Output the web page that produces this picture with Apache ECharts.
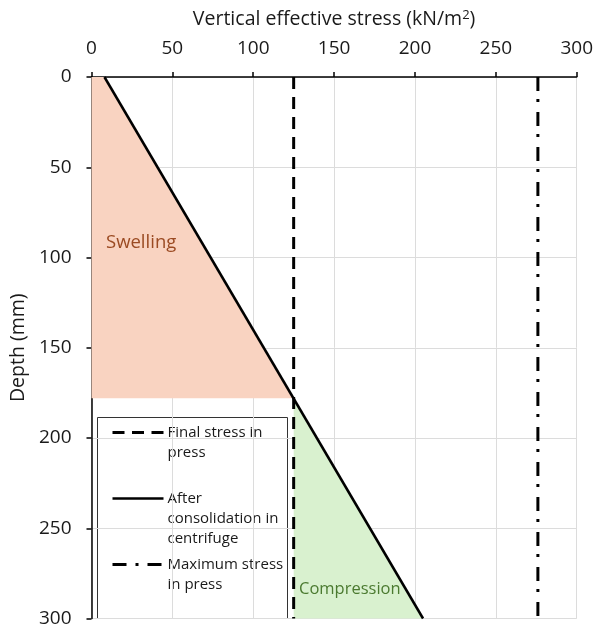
<!DOCTYPE html>
<html>
<head>
<meta charset="utf-8">
<script src="https://cdn.jsdelivr.net/npm/echarts@6/dist/echarts.min.js"></script>
<style>
  html, body { margin: 0; padding: 0; background: #fff; }
  #chart { width: 596px; height: 628px; }
</style>
</head>
<body>
<div id="chart"></div>
<script>
// Depth profile of vertical effective stress
const depthTicks = [0, 50, 100, 150, 200, 250, 300];
const stressTicks = [0, 50, 100, 150, 200, 250, 300];

// After consolidation in centrifuge: stress (kN/m2) at top and bottom depth (mm)
const consolidationDepth = [0, 300];
const consolidationStress = [8, 205];

// Press stresses (kN/m2)
const finalPressStress = 125;
const maxPressStress = 276;

// Depth where the consolidation line meets the final press stress
const crossDepth = 178;

const FONT = '"Open Sans", "Noto Sans", sans-serif';
const TXT = '#1a1a1a';

// Region polygons (stress, depth)
const swellingZone = [[0, 0], [consolidationStress[0], 0], [finalPressStress, crossDepth], [0, crossDepth]];
const compressionZone = [[finalPressStress, crossDepth], [consolidationStress[1], consolidationDepth[1]], [finalPressStress, consolidationDepth[1]]];

function polygonSeries(name, pts, color) {
  return {
    name: name,
    type: 'custom',
    silent: true,
    z: 1,
    data: [0],
    renderItem: function (params, api) {
      return {
        type: 'polygon',
        shape: { points: pts.map(p => api.coord(p)) },
        style: { fill: color }
      };
    }
  };
}

const chart = echarts.init(document.getElementById('chart'), null, { renderer: 'canvas' });

chart.setOption({
  animation: false,
  backgroundColor: '#fff',
  grid: { left: 90, right: 19, top: 77, bottom: 8 },
  xAxis: {
    type: 'value',
    position: 'top',
    min: stressTicks[0],
    max: stressTicks[stressTicks.length - 1],
    interval: 50,
    name: '{t|Vertical effective stress (kN/m}{s|2}{t|)}',
    nameLocation: 'middle',
    nameGap: 47,
    nameTextStyle: {
      rich: {
        t: { fontFamily: FONT, fontSize: 19.5, color: TXT },
        s: { fontFamily: FONT, fontSize: 13, color: TXT, verticalAlign: 'top', padding: [0, 0, 8, 0] }
      }
    },
    axisLine: { show: true, lineStyle: { color: '#000', width: 1.5 } },
    axisTick: { show: true, inside: false, length: 5, lineStyle: { color: '#000', width: 1.5 } },
    axisLabel: { fontFamily: FONT, fontSize: 19, color: TXT, margin: 19 },
    splitLine: { show: true, lineStyle: { color: '#dcdcdc', width: 1 } }
  },
  yAxis: {
    type: 'value',
    inverse: true,
    min: depthTicks[0],
    max: depthTicks[depthTicks.length - 1],
    interval: 50,
    name: 'Depth (mm)',
    nameLocation: 'middle',
    nameGap: 60,
    nameTextStyle: { fontFamily: FONT, fontSize: 19.5, color: TXT },
    axisLine: { show: true, lineStyle: { color: '#000', width: 1.5 } },
    axisTick: { show: true, inside: false, length: 5, lineStyle: { color: '#000', width: 1.5 } },
    axisLabel: { fontFamily: FONT, fontSize: 19, color: TXT, margin: 20 },
    splitLine: { show: true, lineStyle: { color: '#dcdcdc', width: 1 } }
  },
  series: [
    polygonSeries('Swelling', swellingZone, '#f9d3c1'),
    polygonSeries('Compression', compressionZone, '#d9f1cf'),
    {
      name: 'Final stress in press',
      type: 'line',
      symbol: 'none',
      z: 3,
      data: consolidationDepth.map(d => [finalPressStress, d]),
      lineStyle: { color: '#000', width: 3, type: [12, 8] }
    },
    {
      name: 'After consolidation in centrifuge',
      type: 'line',
      symbol: 'none',
      z: 3,
      data: consolidationDepth.map((d, i) => [consolidationStress[i], d]),
      lineStyle: { color: '#000', width: 2.5 }
    },
    {
      name: 'Maximum stress in press',
      type: 'line',
      symbol: 'none',
      z: 3,
      data: consolidationDepth.map(d => [maxPressStress, d]),
      lineStyle: { color: '#000', width: 3, type: [14, 8, 3, 10] }
    }
  ],
  graphic: [
    { type: 'text', left: 106, top: 233, z: 50, style: { text: 'Swelling', fontFamily: FONT, fontSize: 18.5, fill: '#9b4a22' } },
    { type: 'text', left: 299, top: 581, z: 50, style: { text: 'Compression', fontFamily: FONT, fontSize: 16.5, fill: '#4b7a30' } },
    {
      type: 'group', left: 97, top: 417, z: 60,
      children: [
        { type: 'rect', shape: { x: 0, y: 0, width: 190, height: 201 }, style: { fill: '#fff', stroke: '#333', lineWidth: 1 } },
        { type: 'line', shape: { x1: 15, y1: 15, x2: 66, y2: 15 }, style: { stroke: '#000', lineWidth: 3, lineDash: [12, 7.5] } },
        { type: 'text', x: 70, y: 5, style: { text: 'Final stress in\npress', fontFamily: FONT, fontSize: 15, lineHeight: 20, fill: TXT } },
        { type: 'line', shape: { x1: 15, y1: 81, x2: 66, y2: 81 }, style: { stroke: '#000', lineWidth: 2.5 } },
        { type: 'text', x: 70, y: 71, style: { text: 'After\nconsolidation in\ncentrifuge', fontFamily: FONT, fontSize: 15, lineHeight: 20, fill: TXT } },
        { type: 'line', shape: { x1: 15, y1: 147, x2: 66, y2: 147 }, style: { stroke: '#000', lineWidth: 3, lineDash: [14, 9, 3, 9] } },
        { type: 'text', x: 70, y: 137, style: { text: 'Maximum stress\nin press', fontFamily: FONT, fontSize: 15, lineHeight: 20, fill: TXT } }
      ]
    }
  ]
});
</script>
</body>
</html>
